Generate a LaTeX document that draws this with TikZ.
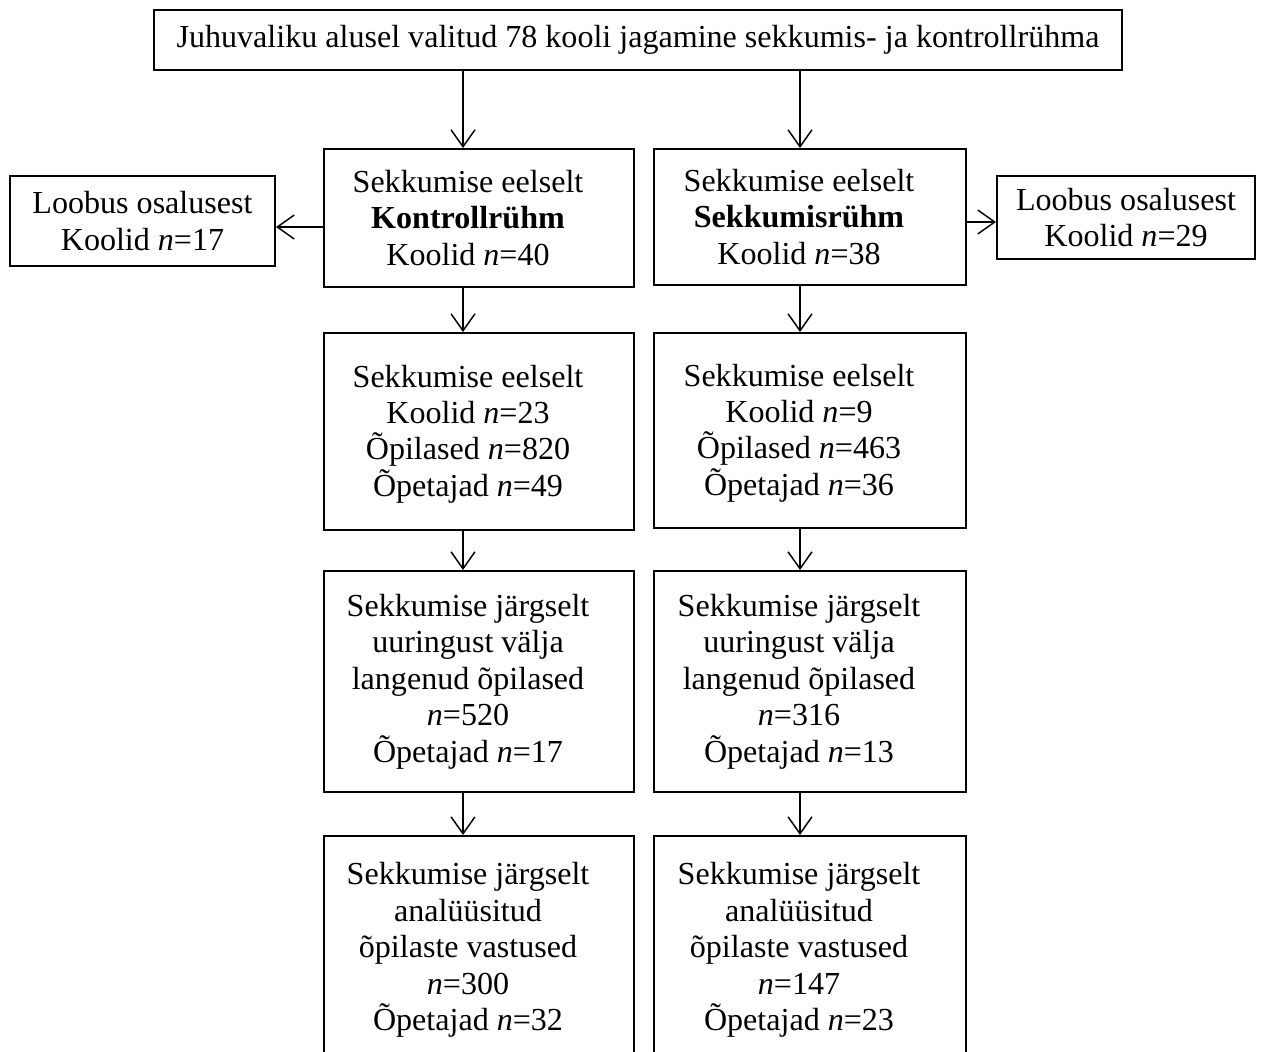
\documentclass[tikz,border=0pt]{standalone}
\usepackage{fontspec}
\setmainfont{Liberation Serif}
\usetikzlibrary{arrows.meta}
\newlength\pxu
\setlength\pxu{0.343pt}
\tikzset{
  flowbox/.style={draw, line width=0.7pt, inner sep=0pt},
  flowtext/.style={align=center, inner sep=0pt, font=\fontsize{11}{12.5}\selectfont},
  flowarrow/.style={-{Straight Barb[length=5.8pt,width=8.2pt]}, line width=0.5pt},
}
\begin{document}
\setlength{\lineskiplimit}{-5pt}
\begin{tikzpicture}[x=0.343pt,y=-0.343pt]
\clip (0,0) rectangle (1263,1051);

% Text columns
\coordinate (textK) at (468,0);
\coordinate (textS) at (799,0);

% Selection of schools
\node[flowbox, flowtext, minimum width=968\pxu, minimum height=60\pxu] (valik) at (638,40)
  {Juhuvaliku alusel valitud 78 kooli jagamine sekkumis- ja kontrollrühma};

% Groups before the intervention
\node[flowbox, minimum width=310\pxu, minimum height=138\pxu] (kontroll) at (479,218) {};
\node[flowtext] (kontrollT) at (kontroll.center -| textK)
  {Sekkumise eelselt\\\textbf{Kontrollrühm}\\Koolid \textit{n}=40};
\node[flowbox, minimum width=312\pxu, minimum height=136\pxu] (sekkumis) at (810,217) {};
\node[flowtext] (sekkumisT) at (sekkumis.center -| textS)
  {Sekkumise eelselt\\\textbf{Sekkumisrühm}\\Koolid \textit{n}=38};

% Drop-outs
\node[flowbox, flowtext, minimum width=265\pxu, minimum height=90\pxu] (loobusK) at (142.5,221)
  {Loobus osalusest\\Koolid \textit{n}=17};
\node[flowbox, flowtext, minimum width=258\pxu, minimum height=83\pxu] (loobusS) at (1126,217.5)
  {Loobus osalusest\\Koolid \textit{n}=29};

% Participants before the intervention
\node[flowbox, minimum width=310\pxu, minimum height=197\pxu] (eelK) at (479,431.5) {};
\node[flowtext] (eelKT) at ([yshift=-2.5\pxu]eelK.center -| textK)
  {Sekkumise eelselt\\Koolid \textit{n}=23\\Õpilased \textit{n}=820\\Õpetajad \textit{n}=49};
\node[flowbox, minimum width=312\pxu, minimum height=195\pxu] (eelS) at (810,430.5) {};
\node[flowtext] (eelST) at ([yshift=-2.5\pxu]eelS.center -| textS)
  {Sekkumise eelselt\\Koolid \textit{n}=9\\Õpilased \textit{n}=463\\Õpetajad \textit{n}=36};

% Drop-outs after the intervention
\node[flowbox, minimum width=310\pxu, minimum height=221\pxu] (jargK) at (479,681.5) {};
\node[flowtext] (jargKT) at (jargK.center -| textK)
  {Sekkumise järgselt\\uuringust välja\\langenud õpilased\\\textit{n}=520\\Õpetajad \textit{n}=17};
\node[flowbox, minimum width=312\pxu, minimum height=221\pxu] (jargS) at (810,681.5) {};
\node[flowtext] (jargST) at (jargS.center -| textS)
  {Sekkumise järgselt\\uuringust välja\\langenud õpilased\\\textit{n}=316\\Õpetajad \textit{n}=13};

% Analysed answers
\node[flowbox, minimum width=310\pxu, minimum height=228\pxu] (analK) at (479,950) {};
\node[flowtext] (analKT) at (analK.center -| textK)
  {Sekkumise järgselt\\analüüsitud\\õpilaste vastused\\\textit{n}=300\\Õpetajad \textit{n}=32};
\node[flowbox, minimum width=312\pxu, minimum height=228\pxu] (analS) at (810,950) {};
\node[flowtext] (analST) at (analS.center -| textS)
  {Sekkumise järgselt\\analüüsitud\\õpilaste vastused\\\textit{n}=147\\Õpetajad \textit{n}=23};

% Arrows
\coordinate (axisK) at (463,0);
\coordinate (axisS) at (800,0);
\coordinate (levelK) at (0,227);
\coordinate (levelS) at (0,222);
\draw[flowarrow] (valik.south -| axisK) -- (kontroll.north -| axisK);
\draw[flowarrow] (valik.south -| axisS) -- (sekkumis.north -| axisS);
\draw[flowarrow] (kontroll.west |- levelK) -- (loobusK.east |- levelK);
\draw[flowarrow] (sekkumis.east |- levelS) -- (loobusS.west |- levelS);
\draw[flowarrow] (kontroll.south -| axisK) -- (eelK.north -| axisK);
\draw[flowarrow] (sekkumis.south -| axisS) -- (eelS.north -| axisS);
\draw[flowarrow] (eelK.south -| axisK) -- (jargK.north -| axisK);
\draw[flowarrow] (eelS.south -| axisS) -- (jargS.north -| axisS);
\draw[flowarrow] (jargK.south -| axisK) -- (analK.north -| axisK);
\draw[flowarrow] (jargS.south -| axisS) -- (analS.north -| axisS);
\end{tikzpicture}
\end{document}
